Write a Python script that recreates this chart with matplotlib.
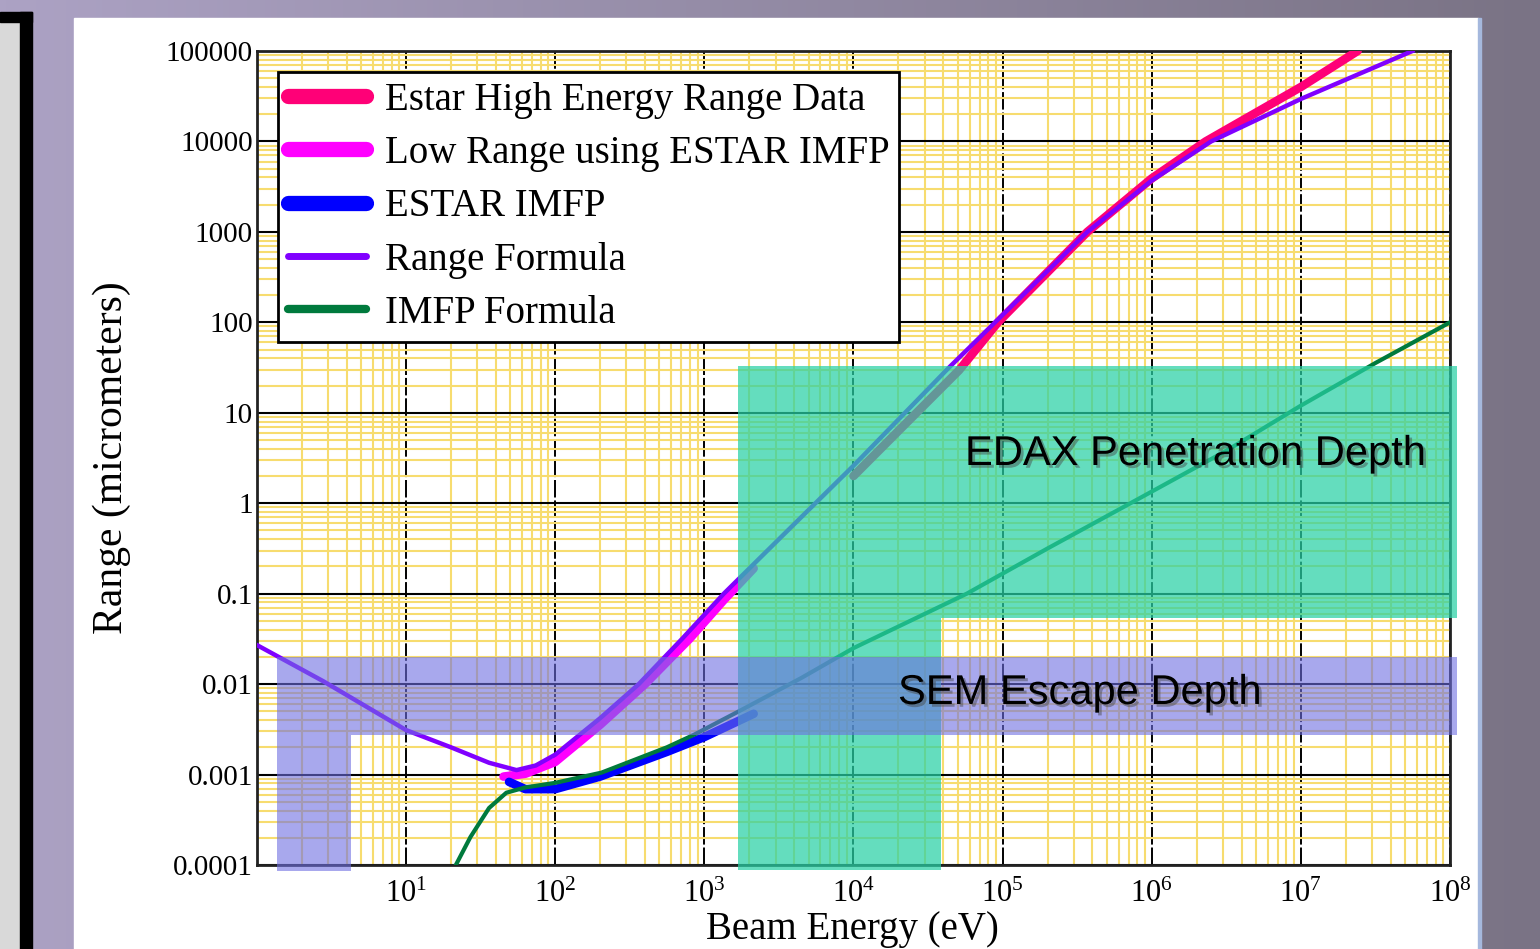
import numpy as np
import matplotlib
matplotlib.use("Agg")
import matplotlib.pyplot as plt
import matplotlib.patheffects as pe
from matplotlib.lines import Line2D
from matplotlib.patches import Polygon, Rectangle
from matplotlib.ticker import FixedLocator, FixedFormatter, LogLocator, NullFormatter

plt.rcParams['font.family'] = ['Liberation Serif', 'DejaVu Serif']
plt.rcParams['mathtext.fontset'] = 'custom'
plt.rcParams['mathtext.rm'] = 'Liberation Serif'
plt.rcParams['mathtext.it'] = 'Liberation Serif:italic'

# values: beam energy (eV) -> range (micrometers)
estar_high_E = [1e4, 2e4, 5.1e4, 9.3e4, 3.7e5, 1e6, 2.3e6, 1e7, 2.4e7]
estar_high_R = [2.0, 6.3, 29.5, 100, 1000, 3900, 1e4, 4e4, 1e5]

low_range_E = [45, 63, 100, 200, 400, 794, 1350, 2140]
low_range_R = [0.00095, 0.00102, 0.00138, 0.00355, 0.01, 0.0316, 0.085, 0.19]

estar_imfp_E = [49, 63, 100, 200, 560, 1000, 2140]
estar_imfp_R = [0.00083, 0.00069, 0.00069, 0.00095, 0.00178, 0.0026, 0.0047]

range_formula_E = [1, 2.8, 10, 20, 36, 55, 74, 100, 200, 363, 708, 1350, 3160,
                   1e4, 4.4e4, 8.9e4, 3.7e5, 1e6, 2.5e6, 1e7, 5.6e7]
range_formula_R = [0.027, 0.0107, 0.0031, 0.0020, 0.00135, 0.00112, 0.00126,
                   0.00166, 0.0042, 0.01, 0.0316, 0.1, 0.4, 2.6, 32, 100, 1000,
                   3700, 1e4, 2.95e4, 1e5]

imfp_formula_E = [20, 27, 36, 47, 63, 100, 204, 560, 850, 1780, 4470, 1e4,
                  5.75e4, 2e5, 7.2e5, 3.16e6, 1e7, 3.16e7, 1e8]
imfp_formula_R = [7.9e-5, 0.000204, 0.000427, 0.00063, 0.00072, 0.00081, 0.00105,
                  0.002, 0.00275, 0.0052, 0.0117, 0.025, 0.1, 0.316, 1, 3.8, 12,
                  35.5, 100]

y_ticks = [1e-4, 1e-3, 1e-2, 1e-1, 1, 10, 100, 1000, 1e4, 1e5]
y_labels = ["0.0001", "0.001", "0.01", "0.1", "1", "10", "100", "1000", "10000", "100000"]
x_ticks = [1e1, 1e2, 1e3, 1e4, 1e5, 1e6, 1e7, 1e8]
x_labels = [r"$10^{%d}$" % k for k in range(1, 9)]

names = ["Estar High Energy Range Data", "Low Range using ESTAR IMFP",
         "ESTAR IMFP", "Range Formula", "IMFP Formula"]
colors = ["#FF0077", "#FF00FF", "#0000FF", "#8000FF", "#007A3D"]

W, H = 1540, 949
fig = plt.figure(figsize=(W / 100, H / 100), dpi=100)

# slide background
bg = fig.add_axes([0, 0, 1, 1], zorder=-10)
bg.set_xlim(0, W)
bg.set_ylim(H, 0)
bg.axis("off")
grad = np.linspace(0, 1, 256)
c0 = np.array([172, 162, 196]) / 255
c1 = np.array([122, 115, 133]) / 255
img = c0[None, None, :] * (1 - grad[None, :, None]) + c1[None, None, :] * grad[None, :, None]
bg.imshow(img, extent=(0, W, H, 0), aspect="auto")
bg.add_patch(Rectangle((0, 22), 20, H, color="#D9D9D9"))
bg.add_patch(Rectangle((20, 12), 12, H, color="black"))
bg.add_patch(Rectangle((0, 12), 32, 10, color="black"))
bg.add_patch(Rectangle((74, 18), 1404, H, color="white"))
bg.add_patch(Rectangle((1478, 18), 2.5, H, color="#A5B8DD"))

ax = fig.add_axes([257 / W, 1 - 865 / H, 1193 / W, 814 / H])
ax.set_xscale("log")
ax.set_yscale("log")
ax.set_xlim(1, 1e8)
ax.set_ylim(1e-4, 1e5)

ax.plot(estar_high_E, estar_high_R, color=colors[0], lw=6.2, zorder=3, solid_capstyle="round")
ax.plot(low_range_E, low_range_R, color=colors[1], lw=6.2, zorder=3, solid_capstyle="round")
ax.plot(estar_imfp_E, estar_imfp_R, color=colors[2], lw=6.2, zorder=3, solid_capstyle="round")
ax.plot(range_formula_E, range_formula_R, color=colors[3], lw=3.2, zorder=4)
ax.plot(imfp_formula_E, imfp_formula_R, color=colors[4], lw=3.0, zorder=4)

ax.xaxis.set_minor_locator(LogLocator(base=10, subs=np.arange(2, 10), numticks=50))
ax.yaxis.set_minor_locator(LogLocator(base=10, subs=np.arange(2, 10), numticks=50))
ax.xaxis.set_minor_formatter(NullFormatter())
ax.yaxis.set_minor_formatter(NullFormatter())
ax.grid(True, which="minor", color="#F7DC6F", lw=1.5, zorder=0)
ax.yaxis.grid(True, which="major", color="black", lw=1.5)
ax.xaxis.grid(True, which="major", color="black", lw=1.4, ls=(0, (9, 1.5)))
ax.set_axisbelow(True)

ax.yaxis.set_major_locator(FixedLocator(y_ticks))
ax.yaxis.set_major_formatter(FixedFormatter(y_labels))
ax.xaxis.set_major_locator(FixedLocator(x_ticks))
ax.xaxis.set_major_formatter(FixedFormatter(x_labels))
ax.tick_params(which="both", length=0)
ax.tick_params(axis="y", labelsize=21, pad=3)
ax.tick_params(axis="x", labelsize=22, pad=11)
for s in ax.spines.values():
    s.set_linewidth(2)
    s.set_color("#222222")

ax.set_xlabel("Beam Energy (eV)", fontsize=28)
ax.xaxis.set_label_coords((852 - 257) / 1193, -(930 - 865) / 814, transform=ax.transAxes)
ax.xaxis.label.set_va("center")
ax.set_ylabel("Range (micrometers)", fontsize=30)
ax.yaxis.set_label_coords(-(257 - 112) / 1193, (865 - 458) / 814, transform=ax.transAxes)
ax.yaxis.label.set_va("center")

handles = [Line2D([], [], color=colors[0], lw=11, solid_capstyle="round"),
           Line2D([], [], color=colors[1], lw=11, solid_capstyle="round"),
           Line2D([], [], color=colors[2], lw=11, solid_capstyle="round"),
           Line2D([], [], color=colors[3], lw=5, solid_capstyle="round"),
           Line2D([], [], color=colors[4], lw=6, solid_capstyle="round")]
leg = ax.legend(handles, names, loc="upper left", bbox_to_anchor=(278 / W, 1 - 72 / H),
                bbox_transform=fig.transFigure, fontsize=28, frameon=True, fancybox=False,
                handlelength=2.0, handletextpad=0.5, labelspacing=0.42, borderpad=0.25,
                borderaxespad=0, framealpha=1)
leg.get_frame().set_edgecolor("black")
leg.get_frame().set_linewidth(2)
leg.set_zorder(6)

# shaded slide overlays
ov = fig.add_axes([0, 0, 1, 1], zorder=10)
ov.set_xlim(0, W)
ov.set_ylim(H, 0)
ov.axis("off")
ov.patch.set_alpha(0)
ov.add_patch(Polygon([(738, 366), (1457, 366), (1457, 618), (941, 618), (941, 870), (738, 870)],
                     closed=True, facecolor="#28D1A5", alpha=0.72, lw=0))
ov.add_patch(Polygon([(277, 657), (1457, 657), (1457, 735), (351, 735), (351, 871), (277, 871)],
                     closed=True, facecolor="#6E6EE1", alpha=0.6, lw=0))
shadow = [pe.SimplePatchShadow(offset=(2, -2), shadow_rgbFace="#444444", alpha=0.45), pe.Normal()]
ov.text(965, 454, "EDAX Penetration Depth", fontsize=30, family="Liberation Sans",
        ha="left", va="center", color="black", path_effects=shadow)
ov.text(898, 693, "SEM Escape Depth", fontsize=30, family="Liberation Sans",
        ha="left", va="center", color="black", path_effects=shadow)

fig.savefig("out.png", dpi=100)
